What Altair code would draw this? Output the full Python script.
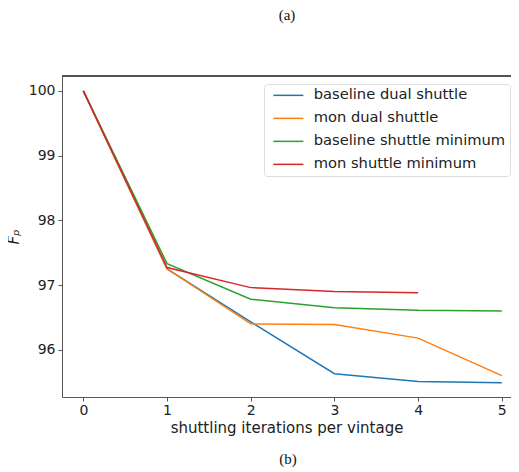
import altair as alt
import pandas as pd

iterations = [0, 1, 2, 3, 4, 5]
series_names = ["baseline dual shuttle", "mon dual shuttle",
                "baseline shuttle minimum", "mon shuttle minimum"]
baseline_dual = [100.0, 97.25, 96.43, 95.63, 95.51, 95.49]
mon_dual = [100.0, 97.25, 96.40, 96.39, 96.18, 95.60]
baseline_min = [100.0, 97.33, 96.78, 96.65, 96.61, 96.60]
mon_min = [100.0, 97.27, 96.96, 96.90, 96.88]
colors = ["#1f77b4", "#ff7f0e", "#2ca02c", "#d62728"]

rows = []
for name, vals in zip(series_names, [baseline_dual, mon_dual, baseline_min, mon_min]):
    for x, v in zip(iterations, vals):
        rows.append({"it": x, "fp": v, "series": name})
df = pd.DataFrame(rows)

W, H = 449, 321
FONT = "DejaVu Sans"

lines = alt.Chart(df).mark_line(strokeWidth=1.5, clip=True).encode(
    x=alt.X("it:Q", scale=alt.Scale(domain=[-0.255, 5.11], nice=False, zero=False),
            axis=alt.Axis(values=iterations, title="shuttling iterations per vintage",
                          grid=False, tickSize=4, labelPadding=2, titlePadding=3)),
    y=alt.Y("fp:Q", scale=alt.Scale(domain=[95.27, 100.23], nice=False, zero=False),
            axis=alt.Axis(values=[96, 97, 98, 99, 100], title="Fₚ", grid=False,
                          tickSize=4, labelPadding=3, titlePadding=7,
                          titleFontStyle="italic")),
    color=alt.Color("series:N", scale=alt.Scale(domain=series_names, range=colors),
                    legend=alt.Legend(title=None, orient="none", legendX=202, legendY=8,
                                      symbolType="M-3,0H3", symbolSize=100,
                                      symbolStrokeWidth=1.5, symbolOffset=13,
                                      labelOffset=18, padding=4, rowPadding=7,
                                      labelFontSize=14.7, labelFont=FONT, labelColor="#222",
                                      labelLimit=400,
                                      strokeColor="#ddd", fillColor="white",
                                      cornerRadius=3)),
    order="it:Q",
)

top_rule = alt.Chart(df).mark_rule(color="#555", strokeWidth=1).encode(
    x=alt.value(0), x2=alt.value(W), y=alt.value(0))

cap_a = alt.Chart(pd.DataFrame({"t": ["(a)"]})).mark_text(
    font="Liberation Serif", fontSize=15, color="#111", baseline="alphabetic").encode(
    text="t:N", x=alt.value(225), y=alt.value(-56))
cap_b = alt.Chart(pd.DataFrame({"t": ["(b)"]})).mark_text(
    font="Liberation Serif", fontSize=15, color="#111", baseline="alphabetic").encode(
    text="t:N", x=alt.value(226), y=alt.value(388))

chart = alt.layer(lines, top_rule, cap_a, cap_b).properties(
    width=W, height=H,
    autosize=alt.AutoSizeParams(type="none"),
    padding={"left": 54, "top": 68, "right": 0, "bottom": 71},
).configure_view(stroke=None).configure_axis(
    labelFont=FONT, titleFont=FONT, labelFontSize=14, titleFontSize=15,
    titleFontWeight="normal",
    labelColor="#222", titleColor="#222", domainColor="#555", tickColor="#555",
)

chart.save("out.html", embed_options={"renderer": "svg", "actions": False})
